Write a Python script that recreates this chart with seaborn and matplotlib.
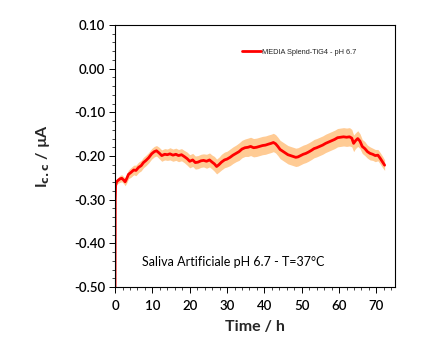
import matplotlib
matplotlib.use("Agg")
import matplotlib.pyplot as plt
import seaborn as sns
import pandas as pd
from matplotlib.ticker import MultipleLocator, FormatStrFormatter

time_h = [0, 0.05, 0.15, 0.4, 0.9, 1.4, 1.8, 2.3, 2.7, 3.1,
          3.6, 4.2, 5.0, 5.6, 6.3, 7.0, 7.6, 8.3, 9.0, 9.8,
          10.5, 11.1, 11.8, 12.5, 13.3, 14.0, 14.7, 15.5, 16.3, 17.0,
          17.8, 18.5, 19.3, 20.0, 20.8, 21.5, 22.2, 23.0, 23.7, 24.5,
          25.3, 26.0, 26.6, 27.2, 27.8, 28.5, 29.3, 30.0, 30.8, 31.6,
          32.4, 33.2, 34.0, 34.8, 35.6, 36.3, 37.1, 37.9, 38.7, 39.5,
          40.3, 41.0, 41.8, 42.4, 43.0, 43.6, 44.2, 44.9, 45.6, 46.3,
          47.0, 47.7, 48.4, 49.0, 49.7, 50.4, 51.1, 51.8, 52.6, 53.3,
          54.0, 54.8, 55.6, 56.4, 57.2, 58.0, 58.8, 59.6, 60.4, 61.2,
          62.0, 62.8, 63.4, 63.9, 64.4, 65.0, 65.6, 66.2, 66.9, 67.6,
          68.3, 69.0, 69.7, 70.4, 71.0, 71.6, 72.2]

current_uA = [-0.50, -0.30, -0.268, -0.259, -0.255, -0.252, -0.251, -0.255, -0.259, -0.252,
              -0.242, -0.238, -0.232, -0.233, -0.226, -0.222, -0.215, -0.210, -0.204, -0.195,
              -0.190, -0.188, -0.193, -0.199, -0.196, -0.197, -0.195, -0.198, -0.196, -0.199,
              -0.197, -0.201, -0.206, -0.212, -0.209, -0.215, -0.214, -0.211, -0.210, -0.212,
              -0.209, -0.214, -0.218, -0.224, -0.220, -0.214, -0.209, -0.207, -0.203, -0.198,
              -0.194, -0.190, -0.184, -0.181, -0.180, -0.178, -0.181, -0.180, -0.178, -0.176,
              -0.175, -0.173, -0.171, -0.169, -0.172, -0.178, -0.185, -0.189, -0.193, -0.197,
              -0.199, -0.201, -0.203, -0.202, -0.199, -0.196, -0.194, -0.191, -0.187, -0.183,
              -0.181, -0.178, -0.175, -0.171, -0.168, -0.165, -0.162, -0.158, -0.157, -0.156,
              -0.157, -0.156, -0.159, -0.171, -0.165, -0.160, -0.166, -0.178, -0.183, -0.190,
              -0.194, -0.196, -0.199, -0.198, -0.205, -0.213, -0.221]

spread_uA = [0.0, 0.0, 0.004, 0.006, 0.007, 0.008, 0.008, 0.008, 0.009, 0.010,
             0.010, 0.011, 0.011, 0.012, 0.012, 0.012, 0.012, 0.012, 0.012, 0.012,
             0.012, 0.012, 0.013, 0.013, 0.013, 0.013, 0.014, 0.014, 0.014, 0.014,
             0.014, 0.014, 0.015, 0.015, 0.015, 0.015, 0.015, 0.015, 0.015, 0.016,
             0.016, 0.016, 0.017, 0.017, 0.017, 0.018, 0.018, 0.018, 0.019, 0.019,
             0.019, 0.020, 0.020, 0.020, 0.021, 0.021, 0.021, 0.021, 0.021, 0.021,
             0.021, 0.021, 0.021, 0.021, 0.021, 0.021, 0.021, 0.021, 0.021, 0.021,
             0.021, 0.021, 0.021, 0.021, 0.021, 0.021, 0.021, 0.021, 0.021, 0.021,
             0.021, 0.021, 0.021, 0.021, 0.021, 0.021, 0.021, 0.021, 0.021, 0.021,
             0.021, 0.021, 0.020, 0.019, 0.018, 0.018, 0.017, 0.016, 0.016, 0.015,
             0.015, 0.014, 0.014, 0.013, 0.013, 0.013, 0.012]

series_label = "MEDIA Splend-TiG4 - pH 6.7"
note_text = "Saliva Artificiale pH 6.7 - T=37°C"

df = pd.DataFrame({"t": time_h, "i": current_uA, "s": spread_uA})

sns.set_style("white")
plt.rcParams["font.family"] = ["Lato", "DejaVu Sans"]

fig = plt.figure(figsize=(4.23, 3.55), dpi=100)
ax = fig.add_axes([0.272, 0.1915, 0.662, 0.738])

ax.fill_between(df["t"], df["i"] - df["s"], df["i"] + df["s"],
                color="#FFCB94", linewidth=0, zorder=1)
sns.lineplot(data=df, x="t", y="i", ax=ax, color="#FF0000", linewidth=2.0,
             label=series_label, zorder=2)

ax.set_xlim(0, 75)
ax.set_ylim(-0.50, 0.10)
ax.xaxis.set_major_locator(MultipleLocator(10))
ax.xaxis.set_minor_locator(MultipleLocator(2))
ax.yaxis.set_major_locator(MultipleLocator(0.1))
ax.yaxis.set_minor_locator(MultipleLocator(0.02))
ax.yaxis.set_major_formatter(FormatStrFormatter("%.2f"))

for sp in ax.spines.values():
    sp.set_visible(True)
    sp.set_color("black")
    sp.set_linewidth(0.8)

ax.tick_params(axis="both", which="major", direction="out", length=4, width=0.7,
               labelsize=9.5, colors="black", bottom=True, left=True, pad=3)
ax.tick_params(axis="x", which="major", pad=5)
ax.tick_params(axis="both", which="minor", direction="out", length=2, width=0.6,
               bottom=True, left=True)
for lab in ax.get_xticklabels() + ax.get_yticklabels():
    lab.set_fontweight("semibold")

ax.set_xlabel("Time / h", fontsize=11.5, fontweight="bold", labelpad=6)
ax.set_ylabel(r"I$_{\mathbf{c{.}c}}$ / µA", fontsize=11.5, fontweight="bold", labelpad=16)

leg = ax.legend(loc="upper right", bbox_to_anchor=(0.885, 0.935), frameon=False,
                prop={"family": "Liberation Sans", "size": 5.3},
                handlelength=2.5, handletextpad=0.2)
for line in leg.get_lines():
    line.set_linewidth(2.0)

ax.text(0.095, 0.095, note_text, transform=ax.transAxes, fontsize=9,
        ha="left", va="center", color="black")

fig.savefig("out.png", dpi=100)
